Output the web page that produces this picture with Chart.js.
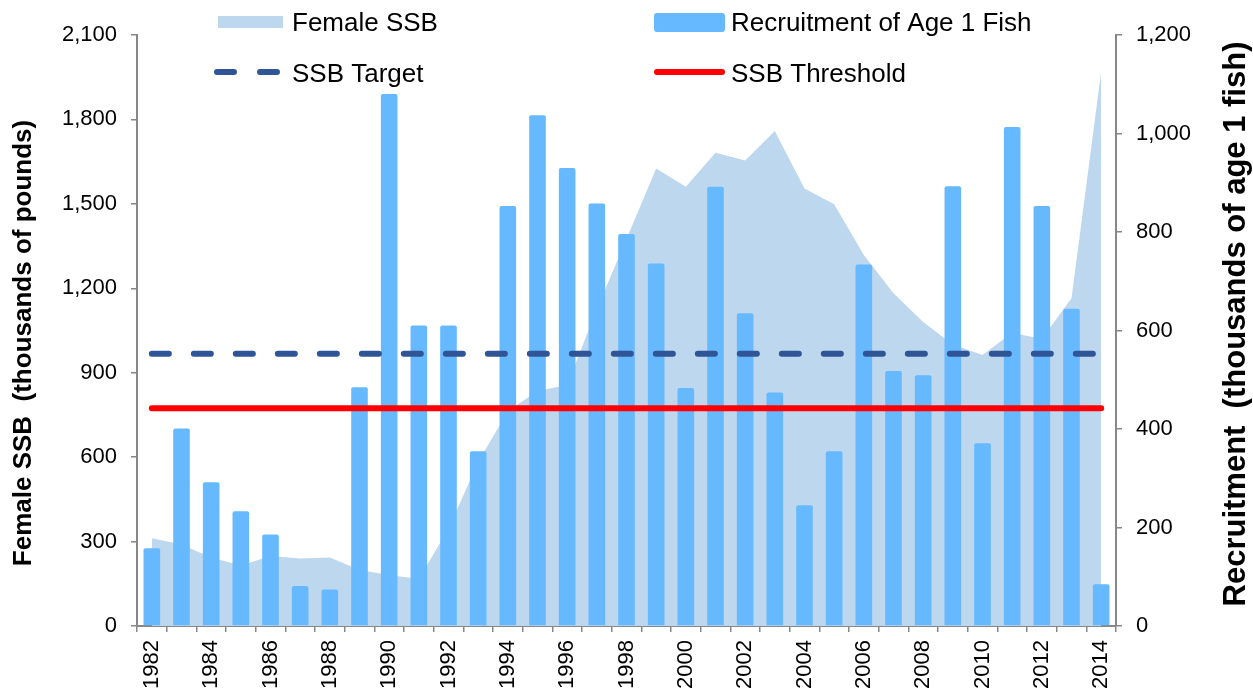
<!DOCTYPE html>
<html>
<head>
<meta charset="utf-8">
<script src="https://cdn.jsdelivr.net/npm/chart.js@4.4.1/dist/chart.umd.min.js"></script>
<style>
  body { margin: 0; background: #fff; }
  #wrap { width: 1253px; height: 696px; }
</style>
</head>
<body>
<div id="wrap"><canvas id="ssbChart" width="1253" height="696"></canvas></div>
<script>
const years = [1982, 1983, 1984, 1985, 1986, 1987, 1988, 1989, 1990, 1991, 1992,
               1993, 1994, 1995, 1996, 1997, 1998, 1999, 2000, 2001, 2002, 2003,
               2004, 2005, 2006, 2007, 2008, 2009, 2010, 2011, 2012, 2013, 2014];

// Female SSB (thousands of pounds) - left axis
const femaleSSB = [312, 290, 243, 215, 249, 240, 243, 199, 181, 167, 346,
                   583, 763, 835, 856, 1126, 1375, 1626, 1561, 1682, 1654, 1759,
                   1555, 1499, 1318, 1182, 1080, 1000, 963, 1042, 1020, 1165, 1970];

// Recruitment of age 1 fish (thousands) - right axis
const recruitment = [158, 401, 292, 233, 186, 81, 74, 485, 1080, 610, 610,
                     355, 853, 1037, 930, 858, 796, 736, 483, 892, 635, 474,
                     245, 355, 734, 518, 509, 893, 371, 1013, 853, 644, 85];

const ssbTarget = 967;
const ssbThreshold = 774;

const leftTicks = [0, 300, 600, 900, 1200, 1500, 1800, 2100];
const rightTicks = [0, 200, 400, 600, 800, 1000, 1200];

const FONT = '"Liberation Sans", Arial, sans-serif';
const areaColor = '#BDD7EE';
const barColor = '#66B9FF';
const targetColor = '#2F5597';
const thresholdColor = '#FF0000';
const axisGray = '#878787';

// legend + rotated axis titles drawn by hand
const extrasPlugin = {
    id: 'extras',
    afterDraw(chart) {
        const ctx = chart.ctx;
        ctx.save();
        ctx.fillStyle = '#000';

        // axis titles, both read bottom to top
        ctx.textAlign = 'center';
        ctx.textBaseline = 'middle';
        ctx.save();
        ctx.translate(24, 343);
        ctx.rotate(-Math.PI / 2);
        ctx.font = 'bold 26px ' + FONT;
        ctx.fillText('Female SSB  (thousands of pounds)', 0, 0);
        ctx.restore();
        ctx.save();
        ctx.translate(1236, 324);
        ctx.rotate(-Math.PI / 2);
        ctx.font = 'bold 31px ' + FONT;
        ctx.fillText('Recruitment  (thousands of age 1 fish)', 0, 0);
        ctx.restore();

        // legend
        ctx.font = '26px ' + FONT;
        ctx.textAlign = 'left';
        ctx.textBaseline = 'alphabetic';

        ctx.fillStyle = areaColor;
        ctx.fillRect(218, 16, 65, 12);
        ctx.fillStyle = '#000';
        ctx.fillText('Female SSB', 292, 31);

        ctx.fillStyle = barColor;
        ctx.beginPath();
        ctx.roundRect(654, 13, 71, 19, 3);
        ctx.fill();
        ctx.fillStyle = '#000';
        ctx.fillText('Recruitment of Age 1 Fish', 731, 31);

        ctx.lineCap = 'round';
        ctx.lineWidth = 6;
        ctx.strokeStyle = targetColor;
        ctx.beginPath();
        ctx.moveTo(217, 72); ctx.lineTo(234, 72);
        ctx.moveTo(260, 72); ctx.lineTo(277, 72);
        ctx.stroke();
        ctx.fillText('SSB Target', 292, 82);

        ctx.strokeStyle = thresholdColor;
        ctx.beginPath();
        ctx.moveTo(657, 72); ctx.lineTo(722, 72);
        ctx.stroke();
        ctx.fillText('SSB Threshold', 731, 82);

        ctx.restore();
    }
};

const ctx = document.getElementById('ssbChart').getContext('2d');

new Chart(ctx, {
    data: {
        labels: years,
        datasets: [
            {
                type: 'line',
                label: 'Female SSB',
                data: femaleSSB,
                yAxisID: 'y',
                fill: 'origin',
                backgroundColor: areaColor,
                borderWidth: 0,
                pointRadius: 0,
                tension: 0,
                order: 4
            },
            {
                type: 'bar',
                label: 'Recruitment of Age 1 Fish',
                data: recruitment,
                yAxisID: 'y1',
                backgroundColor: barColor,
                borderRadius: 2,
                borderSkipped: 'bottom',
                barPercentage: 0.56,
                categoryPercentage: 1.0,
                order: 3
            },
            {
                type: 'line',
                label: 'SSB Target',
                data: years.map(() => ssbTarget),
                yAxisID: 'y',
                borderColor: targetColor,
                borderWidth: 6,
                borderDash: [17, 25],
                borderCapStyle: 'round',
                pointRadius: 0,
                fill: false,
                order: 2
            },
            {
                type: 'line',
                label: 'SSB Threshold',
                data: years.map(() => ssbThreshold),
                yAxisID: 'y',
                borderColor: thresholdColor,
                borderWidth: 6,
                borderCapStyle: 'round',
                pointRadius: 0,
                fill: false,
                order: 1
            }
        ]
    },
    options: {
        responsive: false,
        animation: false,
        layout: { padding: { top: 35, left: 0, right: 0, bottom: 0 } },
        plugins: {
            legend: { display: false },
            tooltip: { enabled: false }
        },
        scales: {
            x: {
                type: 'category',
                offset: true,
                afterFit: (scale) => { scale.height = 70; },
                grid: {
                    offset: true,
                    drawOnChartArea: false,
                    drawTicks: true,
                    tickLength: 6,
                    color: axisGray,
                    lineWidth: 1.5
                },
                border: { display: true, color: axisGray, width: 2 },
                ticks: {
                    autoSkip: false,
                    minRotation: 90,
                    maxRotation: 90,
                    padding: 8,
                    color: '#000',
                    font: { family: FONT, size: 22 },
                    callback: function (value, index) {
                        return index % 2 === 0 ? String(years[index]) : '';
                    }
                }
            },
            y: {
                position: 'left',
                min: leftTicks[0],
                max: leftTicks[leftTicks.length - 1],
                afterFit: (scale) => { scale.width = 137; },
                afterBuildTicks: (scale) => { scale.ticks = leftTicks.map(v => ({ value: v })); },
                grid: {
                    drawOnChartArea: false,
                    drawTicks: true,
                    tickLength: 6,
                    color: axisGray,
                    lineWidth: 1.5
                },
                border: { display: true, color: axisGray, width: 2 },
                ticks: {
                    padding: 14,
                    color: '#000',
                    font: { family: FONT, size: 22 },
                    callback: (v) => v.toLocaleString('en-US')
                }
            },
            y1: {
                position: 'right',
                min: rightTicks[0],
                max: rightTicks[rightTicks.length - 1],
                afterFit: (scale) => { scale.width = 137; },
                afterBuildTicks: (scale) => { scale.ticks = rightTicks.map(v => ({ value: v })); },
                grid: {
                    drawOnChartArea: false,
                    drawTicks: true,
                    tickLength: 6,
                    color: axisGray,
                    lineWidth: 1.5
                },
                border: { display: true, color: axisGray, width: 2 },
                ticks: {
                    padding: 14,
                    color: '#000',
                    font: { family: FONT, size: 22 },
                    callback: (v) => v.toLocaleString('en-US')
                }
            }
        }
    },
    plugins: [extrasPlugin]
});
</script>
</body>
</html>
